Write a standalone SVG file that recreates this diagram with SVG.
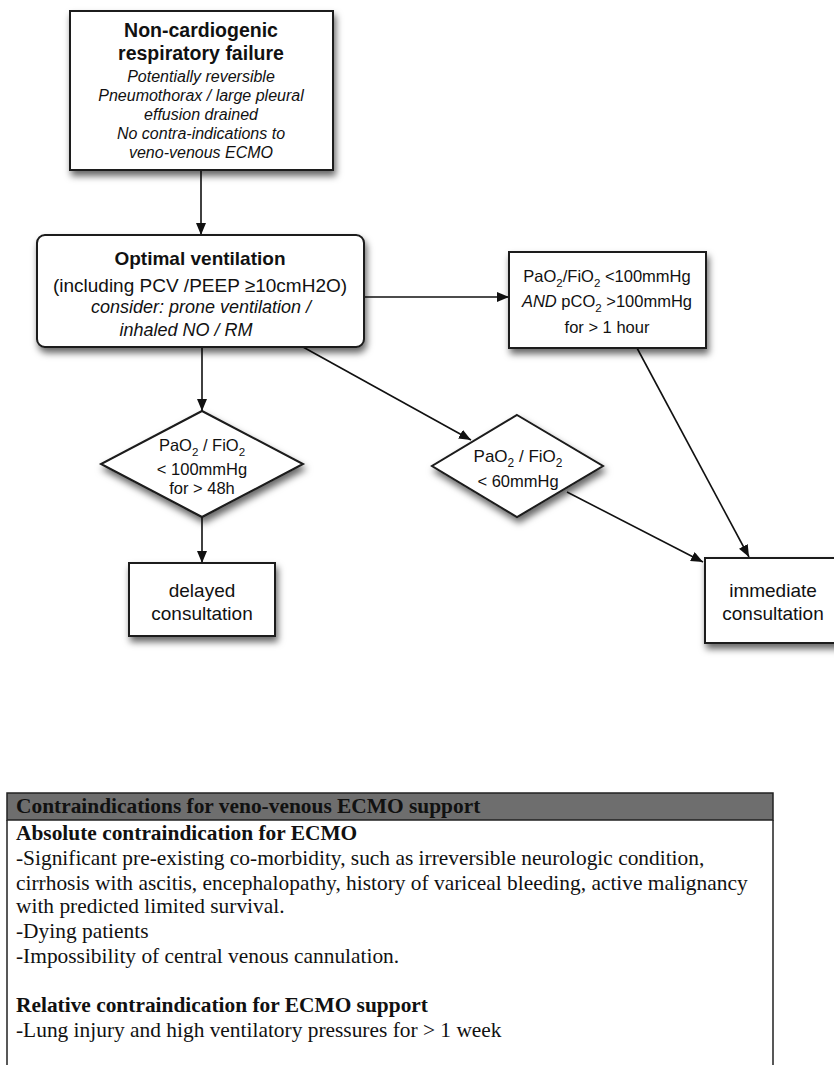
<svg xmlns="http://www.w3.org/2000/svg" width="834" height="1065" viewBox="0 0 834 1065">
<defs>
<filter id="sh" x="-20%" y="-20%" width="150%" height="160%">
<feDropShadow dx="2" dy="5" stdDeviation="3.5" flood-color="#000" flood-opacity="0.6"/>
</filter>
<marker id="ah" viewBox="0 0 12 10" refX="12" refY="5" markerWidth="12" markerHeight="10" markerUnits="userSpaceOnUse" orient="auto">
<path d="M0,0 L12,5 L0,10 Z" fill="#111"/>
</marker>
</defs>
<style>
.box{fill:#fff;stroke:#1a1a1a;stroke-width:2}
.sans{font-family:"Liberation Sans",Arial,sans-serif;fill:#111;text-anchor:middle}
.b{font-weight:bold}
.i{font-style:italic}
.con{fill:none;stroke:#111;stroke-width:1.6;marker-end:url(#ah)}
.ser{font-family:"Liberation Serif","Times New Roman",serif;font-size:21.4px;fill:#111}
.sub{font-size:70%}
</style>
<rect width="834" height="1065" fill="#fff"/>

<g id="connectors">
<line class="con" x1="201" y1="170" x2="201" y2="235"/>
<line class="con" x1="364" y1="297" x2="509" y2="297"/>
<line class="con" x1="202" y1="347" x2="202" y2="411"/>
<line class="con" x1="303" y1="347" x2="471" y2="440"/>
<line class="con" x1="567" y1="492" x2="703" y2="562"/>
<line class="con" x1="202" y1="517" x2="202" y2="563"/>
<line class="con" x1="637" y1="348" x2="749" y2="557"/>
</g>

<g id="node-start">
<rect class="box" x="70" y="11" width="263" height="159" filter="url(#sh)"/>
<text class="sans b" font-size="19.5" x="201" y="37">Non-cardiogenic</text>
<text class="sans b" font-size="19.5" x="201" y="60">respiratory failure</text>
<text class="sans i" font-size="16" x="201" y="82">Potentially reversible</text>
<text class="sans i" font-size="16" x="201" y="101">Pneumothorax / large pleural</text>
<text class="sans i" font-size="16" x="201" y="120">effusion drained</text>
<text class="sans i" font-size="16" x="201" y="139">No contra-indications to</text>
<text class="sans i" font-size="16" x="201" y="158">veno-venous ECMO</text>
</g>

<g id="node-optimal">
<rect class="box" x="37" y="235" width="327" height="112" rx="8" filter="url(#sh)"/>
<text class="sans b" font-size="19" x="200" y="265">Optimal ventilation</text>
<text class="sans" font-size="19" x="200" y="292">(including PCV /PEEP ≥10cmH2O)</text>
<text class="sans i" font-size="18" x="201" y="313">consider: prone ventilation /</text>
<text class="sans i" font-size="18" x="186" y="336">inhaled NO / RM</text>
</g>

<g id="node-criteria">
<rect class="box" x="509" y="252" width="197" height="96" filter="url(#sh)"/>
<text class="sans" font-size="16.5" x="607" y="282">PaO<tspan class="sub" dy="5">2</tspan><tspan dy="-5">/FiO</tspan><tspan class="sub" dy="5">2</tspan><tspan dy="-5"> &lt;100mmHg</tspan></text>
<text class="sans" font-size="16.5" x="607" y="307"><tspan font-style="italic">AND</tspan> pCO<tspan class="sub" dy="5">2</tspan><tspan dy="-5"> &gt;100mmHg</tspan></text>
<text class="sans" font-size="16.5" x="607" y="333">for &gt; 1 hour</text>
</g>

<g id="node-diamond1">
<polygon class="box" points="202,411 303,464 202,517 101,464" filter="url(#sh)"/>
<text class="sans" font-size="16.5" x="202" y="451">PaO<tspan class="sub" dy="5">2</tspan><tspan dy="-5"> / FiO</tspan><tspan class="sub" dy="5">2</tspan></text>
<text class="sans" font-size="16.5" x="202" y="475">&lt; 100mmHg</text>
<text class="sans" font-size="16.5" x="202" y="494">for &gt; 48h</text>
</g>

<g id="node-diamond2">
<polygon class="box" points="517,415 603,466 517,517 432,466" filter="url(#sh)"/>
<text class="sans" font-size="17" x="518" y="462">PaO<tspan class="sub" dy="5">2</tspan><tspan dy="-5"> / FiO</tspan><tspan class="sub" dy="5">2</tspan></text>
<text class="sans" font-size="16.5" x="518" y="487">&lt; 60mmHg</text>
</g>

<g id="node-delayed">
<rect class="box" x="129" y="563" width="146" height="73" filter="url(#sh)"/>
<text class="sans" font-size="19" x="202" y="597">delayed</text>
<text class="sans" font-size="19" x="202" y="620">consultation</text>
</g>

<g id="node-immediate">
<rect class="box" x="705" y="558" width="140" height="85" filter="url(#sh)"/>
<text class="sans" font-size="19" x="773" y="597">immediate</text>
<text class="sans" font-size="19" x="773" y="620">consultation</text>
</g>

<g id="table">
<rect x="7" y="793" width="766" height="27" fill="#6e6e6e" stroke="#222" stroke-width="1.5"/>
<path d="M7,820 V1066 M773,820 V1066" stroke="#222" stroke-width="1.5" fill="none"/>
<text class="ser" font-weight="bold" x="16" y="813">Contraindications for veno-venous ECMO support</text>
<text class="ser" font-weight="bold" x="16" y="840">Absolute contraindication for ECMO</text>
<text class="ser" x="16" y="865">-Significant pre-existing co-morbidity, such as irreversible neurologic condition,</text>
<text class="ser" x="16" y="890">cirrhosis with ascitis, encephalopathy, history of variceal bleeding, active malignancy</text>
<text class="ser" x="16" y="913">with predicted limited survival.</text>
<text class="ser" x="16" y="938">-Dying patients</text>
<text class="ser" x="16" y="963">-Impossibility of central venous cannulation.</text>
<text class="ser" font-weight="bold" x="16" y="1012">Relative contraindication for ECMO support</text>
<text class="ser" x="16" y="1037">-Lung injury and high ventilatory pressures for &gt; 1 week</text>
</g>
</svg>
